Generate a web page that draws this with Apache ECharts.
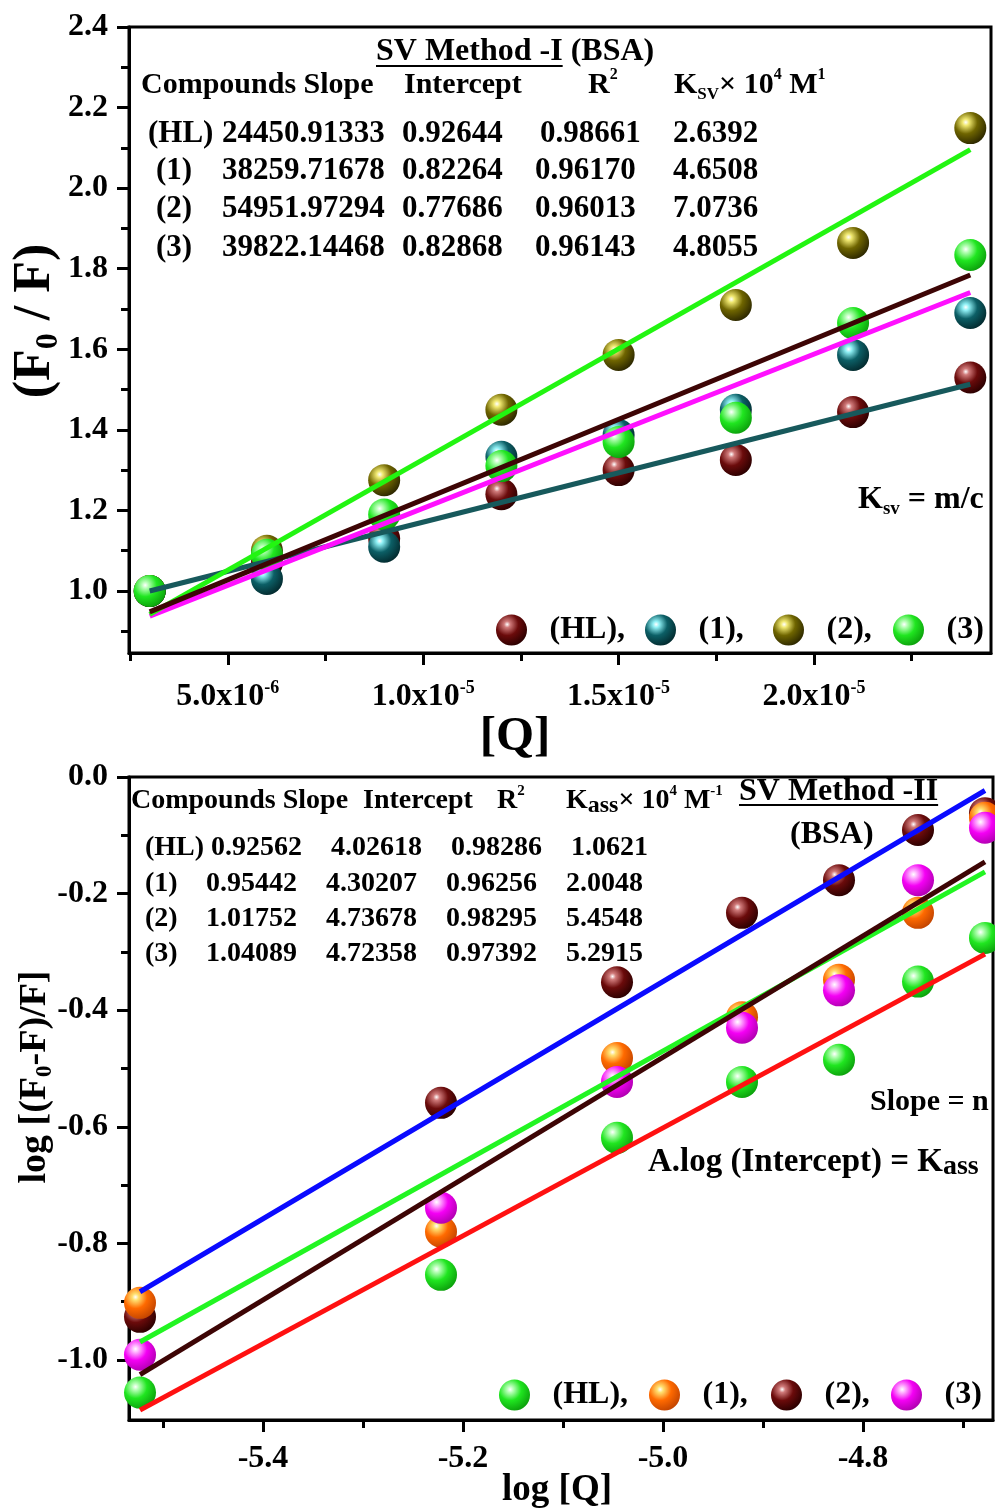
<!DOCTYPE html>
<html><head><meta charset="utf-8">
<script src="https://cdn.jsdelivr.net/npm/echarts@6/dist/echarts.min.js"></script>
<style>html,body{margin:0;padding:0;background:#fff}#c{width:995px;height:1510px}</style>
</head><body><div id="c"></div>
<script>
// ================= DATA =================
// Top panel: SV Method -I (BSA)
const compounds = ['(HL)', '(1)', '(2)', '(3)'];
const topQ = [3e-6, 6e-6, 9e-6, 1.2e-5, 1.5e-5, 1.8e-5, 2.1e-5, 2.4e-5];
const topHL = [1.00, 1.07, 1.13, 1.24, 1.30, 1.325, 1.444, 1.53];
const top1  = [1.00, 1.03, 1.11, 1.333, 1.387, 1.45, 1.586, 1.69];
const top2  = [1.00, 1.10, 1.275, 1.45, 1.586, 1.71, 1.864, 2.149];
const top3  = [1.00, 1.09, 1.19, 1.31, 1.37, 1.43, 1.665, 1.834];
const topSlope = [24450.91333, 38259.71678, 54951.97294, 39822.14468];
const topIntercept = [0.92644, 0.82264, 0.77686, 0.82868];
const topR2 = [0.98661, 0.96170, 0.96013, 0.96143];
const topKsv = [2.6392, 4.6508, 7.0736, 4.8055];
const topXMajor = [5e-6, 1e-5, 1.5e-5, 2e-5];
const topXMinor = [2.5e-6, 7.5e-6, 1.25e-5, 1.75e-5, 2.25e-5];
const topYMajor = [1.0, 1.2, 1.4, 1.6, 1.8, 2.0, 2.2, 2.4];
const topYMinor = [0.9, 1.1, 1.3, 1.5, 1.7, 1.9, 2.1, 2.3];

// Bottom panel: SV Method -II (BSA)
const botLogQ = [-5.523, -5.222, -5.046, -4.921, -4.824, -4.745, -4.678];
const botHL = [-1.056, -0.854, -0.619, -0.523, -0.485, -0.351, -0.276];
const bot1  = [-0.902, -0.780, -0.482, -0.412, -0.348, -0.233, -0.070];
const bot2  = [-0.926, -0.559, -0.352, -0.233, -0.177, -0.091, -0.062];
const bot3  = [-0.991, -0.739, -0.523, -0.430, -0.366, -0.177, -0.087];
const botSlope = [0.92562, 0.95442, 1.01752, 1.04089];
const botIntercept = [4.02618, 4.30207, 4.73678, 4.72358];
const botR2 = [0.98286, 0.96256, 0.98295, 0.97392];
const botKass = [1.0621, 2.0048, 5.4548, 5.2915];
const botXMajor = [-5.4, -5.2, -5.0, -4.8];
const botXMinor = [-5.5, -5.3, -5.1, -4.9, -4.7];
const botYMajor = [0, -0.2, -0.4, -0.6, -0.8, -1.0];
const botYMinor = [-0.1, -0.3, -0.5, -0.7, -0.9];

// ================= STYLE =================
const FONT = "'Liberation Serif','Times New Roman',serif";
function ball(base, light, dark) {
  return {type: 'radial', x: 0.36, y: 0.32, r: 0.72, colorStops: [
    {offset: 0, color: '#ffffff'}, {offset: 0.14, color: light},
    {offset: 0.5, color: base}, {offset: 1, color: dark}]};
}
const BALL = {
  maroon: ball('#6b0b0b', '#d07a7a', '#2a0000'),
  teal: ball('#0c5f66', '#8ff0f5', '#032a2e'),
  olive: ball('#6f6500', '#f0e870', '#2c2700'),
  green: ball('#20e620', '#b8ffb8', '#0ca00c'),
  orange: ball('#ff6a00', '#ffe070', '#c24400'),
  magenta: ball('#f400f4', '#ffb8ff', '#b000b0')
};

function zip(xs, ys) { return xs.map((x, i) => [x, ys[i]]); }
function fitLine(xs, slope, icpt) {
  const x0 = xs[0], x1 = xs[xs.length - 1];
  return [[x0, slope * x0 + icpt], [x1, slope * x1 + icpt]];
}

const tickStyle = {color: '#000', width: 3};
const labelBase = {fontFamily: FONT, fontWeight: 'bold', fontSize: 32, color: '#000'};

function axisPair(dim, grid, min, max, major, minor, fmt, extraLabel) {
  const pos = dim === 'x' ? 'bottom' : 'left';
  return [
    {type: 'value', gridIndex: grid, min, max, position: pos,
     axisLine: {show: true, onZero: false, lineStyle: tickStyle},
     axisTick: {show: true, customValues: major, length: 12, lineStyle: tickStyle},
     axisLabel: Object.assign({show: true, customValues: major, formatter: fmt, margin: dim === 'x' ? 23 : 21}, labelBase, extraLabel || {}),
     splitLine: {show: false}},
    {type: 'value', gridIndex: grid, min, max, position: pos,
     axisLine: {show: false, onZero: false},
     axisTick: {show: true, customValues: minor, length: 8, lineStyle: tickStyle},
     axisLabel: {show: false}, splitLine: {show: false}}
  ];
}

const topXFmt = v => {
  const e = Math.floor(Math.log10(v) + 1e-9);
  const m = (v / Math.pow(10, e)).toFixed(1);
  return '{m|' + m + 'x10}{s|' + e + '}';
};
const topXRich = {rich: {
  m: {fontFamily: FONT, fontWeight: 'bold', fontSize: 32, color: '#000', lineHeight: 36},
  s: {fontFamily: FONT, fontWeight: 'bold', fontSize: 18, color: '#000', lineHeight: 12, verticalAlign: 'top'}
}, margin: 26};
const yFmt = v => v.toFixed(1);

const xAxes = [].concat(
  axisPair('x', 0, 2.47e-6, 2.453e-5, topXMajor, topXMinor, topXFmt, topXRich),
  axisPair('x', 1, -5.534, -4.67, botXMajor, botXMinor, v => v.toFixed(1))
);
const yAxes = [].concat(
  axisPair('y', 0, 0.846, 2.4, topYMajor, topYMinor, yFmt),
  axisPair('y', 1, -1.103, 0, botYMajor, botYMinor, yFmt)
);

// series
const topSeriesDef = [
  {name: 'top(HL)', ys: topHL, ball: BALL.maroon},
  {name: 'top(1)', ys: top1, ball: BALL.teal},
  {name: 'top(2)', ys: top2, ball: BALL.olive},
  {name: 'top(3)', ys: top3, ball: BALL.green}
];
const topLineColors = ['#17595c', '#ff10ff', '#22f511', '#3d0505'];
const botSeriesDef = [
  {name: 'bot(HL)', ys: botHL, ball: BALL.green},
  {name: 'bot(2)', ys: bot2, ball: BALL.maroon},
  {name: 'bot(1)', ys: bot1, ball: BALL.orange},
  {name: 'bot(3)', ys: bot3, ball: BALL.magenta}
];
const botLineColors = ['#ff1111', '#22f522', '#0a0aff', '#3d0505'];

const series = [];
topSeriesDef.forEach(d => series.push({
  type: 'scatter', name: d.name, xAxisIndex: 0, yAxisIndex: 0, data: zip(topQ, d.ys),
  symbol: 'circle', symbolSize: 32, itemStyle: {color: d.ball, opacity: 1}, z: 2, silent: true
}));
botSeriesDef.forEach(d => series.push({
  type: 'scatter', name: d.name, xAxisIndex: 2, yAxisIndex: 2, data: zip(botLogQ, d.ys),
  symbol: 'circle', symbolSize: 32, itemStyle: {color: d.ball, opacity: 1}, z: 2, silent: true
}));
compounds.forEach((c, i) => series.push({
  type: 'line', name: 'fitTop' + i, xAxisIndex: 0, yAxisIndex: 0,
  data: fitLine(topQ, topSlope[i], topIntercept[i]), symbol: 'none', silent: true,
  lineStyle: {color: topLineColors[i], width: 5}, z: 3
}));
compounds.forEach((c, i) => series.push({
  type: 'line', name: 'fitBot' + i, xAxisIndex: 2, yAxisIndex: 2,
  data: fitLine(botLogQ, botSlope[i], botIntercept[i]), symbol: 'none', silent: true,
  lineStyle: {color: botLineColors[i], width: 5}, z: 3
}));

// legends (one per item so they sit where the reference has them)
const legendLabel = {};
compounds.forEach((c, i) => {
  const t = c + (i < compounds.length - 1 ? ',' : '');
  legendLabel['top' + c] = t; legendLabel['bot' + c] = t;
});
function leg(name, left, top) {
  return {data: [name], left, top, orient: 'horizontal', itemWidth: 66, itemHeight: 31,
    icon: 'circle', selectedMode: false, padding: 0, formatter: n => legendLabel[n],
    textStyle: {fontFamily: FONT, fontWeight: 'bold', fontSize: 32, color: '#000', padding: [0, 0, 0, 0]}};
}
const legends = [
  leg('top(HL)', 496, 614), leg('top(1)', 645, 614), leg('top(2)', 773, 614), leg('top(3)', 893, 614),
  leg('bot(HL)', 499, 1379), leg('bot(1)', 649, 1379), leg('bot(2)', 771, 1379), leg('bot(3)', 891, 1379)
];

// ================= TEXT =================
function F(size, extra) { return Object.assign({fontFamily: FONT, fontWeight: 'bold', fontSize: size, fill: '#000'}, extra || {}); }
const RICH = {
  n: F(30, {lineHeight: 36}),
  t: F(32, {lineHeight: 38}),
  r: F(31, {lineHeight: 36}),
  sup: F(16, {lineHeight: 14, verticalAlign: 'top'}),
  sub: F(17, {lineHeight: 14, verticalAlign: 'bottom'}),
  b: F(28, {lineHeight: 34}),
  bsup: F(15, {lineHeight: 14, verticalAlign: 'top'}),
  bsub: F(24, {lineHeight: 20, verticalAlign: 'bottom'}),
  k: F(32, {lineHeight: 38}),
  lsub: F(19, {lineHeight: 12, verticalAlign: 'bottom'}),
  a: F(33, {lineHeight: 38}),
  asub: F(28, {lineHeight: 22, verticalAlign: 'bottom'}),
  big: F(52, {lineHeight: 58}),
  bigsub: F(32, {lineHeight: 26, verticalAlign: 'bottom'}),
  q: F(49, {lineHeight: 56}),
  mid: F(38, {lineHeight: 44}),
  midsub: F(23, {lineHeight: 18, verticalAlign: 'bottom'}),
  lq: F(37, {lineHeight: 44})
};
function T(x, y, text, opts) {
  opts = opts || {};
  return {type: 'text', x, y, rotation: opts.rotation || 0, z: 20, silent: true,
    style: {text, rich: RICH, fill: '#000', font: 'bold 30px ' + FONT,
      align: opts.align || 'left', verticalAlign: 'middle',
      textAlign: opts.align || 'left', textVerticalAlign: 'middle'}};
}
const mctx = document.createElement('canvas').getContext('2d');
function textW(s, size) { mctx.font = 'bold ' + size + 'px ' + FONT; return mctx.measureText(s).width; }
function U(x, y, s, size) {
  return {type: 'line', z: 20, silent: true, shape: {x1: x, y1: y, x2: x + textW(s, size), y2: y},
    style: {stroke: '#000', lineWidth: 2}};
}

const g = [];
// --- top panel table ---
g.push(T(376, 52, '{t|SV Method -I (BSA)}'));
g.push(U(376, 66, 'SV Method -I', 32));
g.push(T(141, 85, '{n|Compounds Slope}'));
g.push(T(404, 85, '{n|Intercept}'));
g.push(T(588, 85, '{n|R}{sup|2}'));
g.push(T(674, 85, '{n|K}{sub|SV}{n|\u00d7 10}{sup|4}{n| M}{sup|1}'));
const topRowY = [134, 171, 209, 247.5];
const topNameX = [148, 156, 156, 156];
const topR2X = [540, 535, 535, 535];
compounds.forEach((c, i) => {
  const y = topRowY[i];
  g.push(T(topNameX[i], y, '{r|' + c + '}'));
  g.push(T(222, y, '{r|' + topSlope[i].toFixed(5) + '}'));
  g.push(T(402, y, '{r|' + topIntercept[i].toFixed(5) + '}'));
  g.push(T(topR2X[i], y, '{r|' + topR2[i].toFixed(5) + '}'));
  g.push(T(673, y, '{r|' + topKsv[i].toFixed(4) + '}'));
});
g.push(T(858, 500, '{k|K}{lsub|sv}{k| = m/c}'));
// axis names top
g.push(T(36, 321, '{big|(F}{bigsub|0}{big| / F)}', {align: 'center', rotation: Math.PI / 2}));
g.push(T(515, 737, '{q|[Q]}', {align: 'center'}));

// --- bottom panel table ---
g.push(T(131, 801, '{b|Compounds Slope}'));
g.push(T(363, 801, '{b|Intercept}'));
g.push(T(497, 801, '{b|R}{bsup|2}'));
g.push(T(566, 801, '{b|K}{bsub|ass}{b|\u00d7 10}{bsup|4}{b| M}{bsup|-1}'));
g.push(T(739, 792, '{t|SV Method -II}'));
g.push(U(739, 805, 'SV Method -II', 32));
g.push(T(790, 835, '{t|(BSA)}'));
const botRowY = [847.5, 884, 919, 954];
const botShift = [5, 0, 0, 0];
compounds.forEach((c, i) => {
  const y = botRowY[i], s = botShift[i];
  g.push(T(145, y, '{b|' + c + '}'));
  g.push(T(206 + s, y, '{b|' + botSlope[i].toFixed(5) + '}'));
  g.push(T(326 + s, y, '{b|' + botIntercept[i].toFixed(5) + '}'));
  g.push(T(446 + s, y, '{b|' + botR2[i].toFixed(5) + '}'));
  g.push(T(566 + s, y, '{b|' + botKass[i].toFixed(4) + '}'));
});
g.push(T(870, 1102, '{n|Slope = n}'));
g.push(T(648, 1162, '{a|A.log (Intercept) = K}{asub|ass}'));
// axis names bottom
g.push(T(35, 1077, '{mid|log [(F}{midsub|0}{mid|-F)/F]}', {align: 'center', rotation: Math.PI / 2}));
g.push(T(557, 1490, '{lq|log [Q]}', {align: 'center'}));

const option = {
  animation: false,
  backgroundColor: '#ffffff',
  grid: [
    {left: 129, top: 27, width: 862, height: 626, show: true, borderColor: '#000', borderWidth: 3, backgroundColor: 'transparent'},
    {left: 129, top: 777, width: 864, height: 643, show: true, borderColor: '#000', borderWidth: 3, backgroundColor: 'transparent'}
  ],
  xAxis: xAxes,
  yAxis: yAxes,
  legend: legends,
  series: series,
  graphic: {elements: g}
};
const chart = echarts.init(document.getElementById('c'), null, {renderer: 'canvas'});
chart.setOption(option);
</script>
</body></html>
